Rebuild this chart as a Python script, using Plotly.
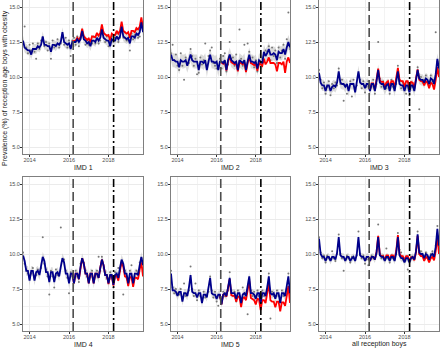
import plotly.graph_objects as go

# ---- data (monthly, Sep 2013 .. Oct 2019) ----
n_months = 74
x_years = [2013 + (8 + i) / 12 for i in range(n_months)]
red_start = 30  # Mar 2016

panel_titles = ["IMD 1", "IMD 2", "IMD 3", "IMD 4", "IMD 5", "all reception boys"]

blue_imd1 = [12.6, 12.1, 12.0, 11.9, 11.9, 11.6, 12.0, 12.0, 12.0, 12.2, 12.1, 12.3,
             12.9, 12.3, 12.3, 12.2, 12.2, 11.8, 12.3, 12.3, 12.2, 12.4, 12.3, 12.5,
             13.2, 12.5, 12.4, 12.3, 12.4, 12.0, 12.5, 12.5, 12.5, 12.7, 12.5, 12.7,
             13.3, 12.7, 12.6, 12.4, 12.5, 12.2, 12.6, 12.6, 12.5, 12.8, 12.6, 12.8,
             13.4, 12.8, 12.7, 12.6, 12.6, 12.2, 12.7, 12.6, 12.6, 12.9, 12.7, 12.9,
             13.6, 12.9, 12.8, 12.7, 12.8, 12.4, 12.9, 12.9, 12.8, 13.1, 13.0, 13.2,
             13.9, 13.2]
red_imd1 = [12.55, 12.55, 12.6, 12.8, 12.65, 12.85, 13.45, 12.9, 12.8, 12.65, 12.75, 12.5,
            12.9, 12.9, 12.85, 13.15, 12.95, 13.15, 13.75, 13.15, 13.05, 12.95, 13.0, 12.6,
            13.1, 13.0, 13.0, 13.3, 13.1, 13.3, 13.95, 13.3, 13.2, 13.1, 13.2, 12.8,
            13.3, 13.3, 13.2, 13.5, 13.4, 13.6, 14.25, 13.55]
obs_imd1 = [12.5, 13.6, 12.1, 11.7, 12.3, 11.9, 12.4, 11.8, 11.3, 12.4, 12.0, 12.6,
            12.8, 12.2, 12.5, 11.9, 12.4, 11.3, 12.6, 12.1, 12.3, 12.7, 12.1, 12.4,
            13.0, 12.3, 12.8, 12.1, 12.6, 11.5, 12.6, 12.8, 12.3, 12.9, 12.2, 12.8,
            13.1, 12.9, 12.3, 12.6, 12.3, 12.5, 12.4, 12.9, 12.4, 13.0, 12.4, 12.6,
            13.5, 13.2, 12.5, 12.9, 12.2, 12.5, 12.9, 12.5, 12.8, 13.1, 12.5, 12.8,
            13.7, 12.8, 13.2, 12.6, 12.6, 11.9, 13.1, 12.7, 13.0, 13.4, 12.8, 12.9,
            13.7, 13.5]

blue_imd2 = [11.6, 11.2, 11.2, 11.1, 11.1, 10.7, 11.2, 11.1, 11.1, 11.2, 10.8, 11.2,
             11.6, 11.2, 11.1, 11.1, 11.1, 10.5, 11.1, 11.1, 11.0, 11.2, 10.5, 11.1,
             11.6, 11.1, 11.1, 11.0, 11.1, 10.5, 11.1, 11.1, 11.0, 11.2, 10.5, 11.2,
             11.6, 11.2, 11.1, 11.0, 11.1, 10.5, 11.2, 11.1, 11.0, 11.2, 10.5, 11.1,
             11.6, 11.1, 11.1, 11.0, 11.1, 10.6, 11.2, 11.1, 11.0, 11.8, 11.5, 11.7,
             12.0, 11.6, 11.6, 11.7, 11.6, 11.2, 11.8, 11.7, 11.7, 12.0, 11.6, 12.1,
             12.5, 12.1]
red_imd2 = [11.1, 11.05, 10.95, 11.1, 10.45, 11.1, 11.5, 11.05, 11.0, 10.9, 11.0, 10.4,
            11.05, 11.0, 10.9, 11.05, 10.35, 11.0, 11.45, 11.0, 10.95, 10.85, 10.95, 10.45,
            11.0, 10.9, 10.8, 11.3, 10.9, 11.1, 11.4, 11.0, 11.0, 11.0, 10.9, 10.4,
            11.0, 11.0, 10.9, 11.1, 10.3, 11.1, 11.4, 11.0]
obs_imd2 = [11.7, 12.3, 11.2, 11.6, 10.8, 10.5, 11.7, 10.8, 9.8, 11.4, 10.9, 11.0,
            12.0, 11.5, 10.8, 11.3, 10.2, 10.3, 11.4, 10.9, 11.2, 12.4, 10.7, 11.5,
            11.9, 12.1, 11.0, 10.8, 10.6, 10.6, 11.3, 10.6, 11.5, 11.7, 10.4, 10.9,
            12.5, 11.3, 11.4, 10.8, 11.6, 10.7, 13.4, 11.3, 10.8, 12.3, 10.6, 12.4,
            11.8, 11.0, 11.4, 10.7, 11.2, 10.4, 10.9, 11.0, 11.3, 11.6, 11.9, 11.8,
            12.2, 11.2, 12.1, 11.5, 11.9, 11.0, 12.1, 11.4, 11.9, 12.3, 11.3, 12.7,
            14.6, 12.0]

blue_imd3 = [10.3, 9.6, 9.4, 9.4, 9.0, 9.4, 9.4, 9.0, 9.3, 9.4, 9.3, 9.6,
             10.4, 9.6, 9.5, 9.5, 9.3, 9.5, 9.0, 9.5, 9.5, 9.5, 8.9, 9.6,
             10.4, 9.6, 9.5, 9.5, 9.2, 9.5, 9.5, 9.0, 9.5, 9.5, 9.0, 9.7,
             10.5, 9.6, 9.5, 9.5, 9.1, 9.4, 9.5, 9.0, 9.5, 9.5, 9.0, 9.7,
             10.4, 9.5, 9.4, 9.4, 9.0, 9.4, 9.4, 8.9, 9.4, 9.4, 9.0, 9.8,
             10.5, 9.9, 9.8, 9.8, 9.6, 9.9, 9.8, 9.5, 9.9, 9.8, 9.5, 10.2,
             11.3, 10.6]
red_imd3 = [9.55, 9.05, 9.55, 9.55, 9.05, 9.75, 10.6, 9.75, 9.65, 9.65, 9.3, 9.6,
            9.7, 9.25, 9.7, 9.7, 9.25, 9.95, 10.65, 9.8, 9.7, 9.7, 9.3, 9.7,
            9.7, 9.25, 9.65, 9.6, 9.2, 9.9, 10.55, 9.8, 9.7, 9.7, 9.4, 9.7,
            9.6, 9.2, 9.6, 9.5, 9.1, 9.8, 10.7, 10.0]
obs_imd3 = [10.5, 9.8, 9.2, 9.6, 8.8, 9.3, 9.7, 8.7, 9.5, 9.2, 9.6, 9.4,
            10.6, 9.5, 9.8, 8.3, 9.4, 8.8, 9.2, 9.7, 8.6, 9.8, 9.1, 9.4,
            10.2, 9.8, 9.2, 9.7, 8.9, 9.3, 9.7, 9.2, 9.3, 9.8, 8.8, 9.5,
            12.5, 9.9, 9.3, 9.7, 9.3, 9.2, 9.6, 8.8, 9.8, 9.3, 9.2, 9.5,
            10.8, 9.7, 9.2, 9.6, 9.2, 8.8, 9.6, 8.7, 9.6, 9.3, 9.2, 9.9,
            10.7, 7.7, 10.0, 9.6, 9.8, 10.1, 9.6, 9.3, 10.1, 9.7, 9.8, 13.2,
            11.1, 10.5]

blue_imd4 = [9.9, 9.5, 8.8, 8.8, 8.1, 8.8, 8.8, 8.1, 8.7, 8.8, 8.5, 9.2,
             9.8, 9.5, 8.7, 8.7, 8.0, 8.7, 8.7, 8.0, 8.6, 8.7, 8.4, 9.1,
             9.7, 9.4, 8.6, 8.6, 7.9, 8.6, 8.6, 7.9, 8.6, 8.6, 8.2, 9.1,
             9.7, 9.3, 8.6, 8.6, 7.9, 8.6, 8.6, 7.9, 8.6, 8.6, 8.3, 9.0,
             9.6, 9.2, 8.5, 8.5, 7.9, 8.5, 8.5, 7.8, 8.5, 8.6, 8.3, 9.0,
             9.6, 9.3, 8.6, 8.6, 7.9, 8.6, 8.6, 7.9, 8.6, 8.6, 8.5, 9.2,
             9.8, 9.2]
red_imd4 = [8.6, 7.9, 8.6, 8.6, 8.2, 9.1, 9.7, 9.3, 8.6, 8.6, 7.9, 8.6,
            8.6, 7.9, 8.6, 8.6, 8.3, 9.0, 9.6, 9.2, 8.5, 8.5, 7.85, 8.45,
            8.45, 7.75, 8.4, 8.45, 8.1, 8.8, 9.45, 9.1, 8.4, 8.35, 7.7, 8.35,
            8.35, 7.65, 8.3, 8.3, 8.2, 8.9, 9.4, 8.4]
obs_imd4 = [10.1, 9.3, 8.9, 8.6, 8.3, 8.6, 9.0, 8.3, 8.5, 8.9, 8.7, 9.0,
            11.2, 9.3, 8.9, 8.4, 7.1, 8.8, 8.4, 7.6, 8.9, 8.5, 8.6, 11.9,
            9.5, 9.6, 8.8, 8.3, 7.2, 8.7, 8.4, 8.1, 8.8, 8.4, 8.0, 9.3,
            9.5, 9.4, 8.8, 8.4, 8.1, 8.4, 8.8, 8.1, 8.4, 8.8, 9.8, 8.8,
            9.8, 9.0, 8.7, 8.3, 8.1, 8.7, 8.3, 7.6, 8.7, 8.4, 9.0, 8.8,
            9.4, 7.1, 8.8, 8.4, 8.1, 8.8, 9.2, 8.1, 8.4, 8.8, 8.7, 9.4,
            9.7, 9.0]

blue_imd5 = [8.6, 7.4, 7.4, 7.3, 7.0, 7.3, 7.3, 6.6, 7.2, 7.2, 7.0, 7.6,
             8.5, 7.3, 7.2, 7.2, 6.9, 7.2, 7.2, 6.5, 7.1, 7.1, 6.9, 7.5,
             8.3, 7.2, 7.1, 7.1, 6.8, 7.1, 7.1, 6.4, 7.1, 7.2, 7.0, 7.6,
             8.3, 7.2, 7.2, 7.2, 6.8, 7.2, 7.2, 6.5, 7.1, 7.2, 7.0, 7.6,
             8.4, 7.2, 7.2, 7.1, 6.8, 7.2, 7.2, 6.5, 7.2, 7.2, 7.0, 7.6,
             8.4, 7.2, 7.1, 7.2, 6.8, 7.2, 7.2, 6.5, 7.2, 7.2, 7.0, 7.7,
             8.4, 7.2]
red_imd5 = [7.1, 6.4, 7.1, 7.15, 6.95, 7.5, 8.2, 7.05, 7.0, 7.0, 6.6, 6.95,
            6.95, 6.2, 6.85, 6.9, 6.7, 7.3, 8.1, 6.85, 6.8, 6.7, 6.4, 6.8,
            6.75, 6.0, 6.7, 6.7, 6.5, 7.1, 7.9, 6.7, 6.6, 6.6, 6.2, 6.6,
            6.6, 5.9, 6.55, 6.55, 6.3, 7.0, 7.7, 6.5]
obs_imd5 = [8.8, 7.6, 7.2, 7.5, 7.2, 7.1, 7.5, 6.8, 7.9, 7.0, 7.2, 7.4,
            9.1, 7.5, 7.0, 7.9, 6.7, 7.4, 7.0, 6.7, 7.3, 6.9, 7.1, 7.3,
            8.4, 7.4, 6.9, 7.3, 6.6, 6.3, 6.9, 6.6, 7.3, 7.0, 7.2, 7.4,
            8.7, 7.4, 7.0, 7.3, 6.6, 7.4, 7.0, 6.8, 7.6, 6.9, 7.2, 5.7,
            8.2, 7.4, 7.0, 7.3, 7.0, 7.4, 7.0, 6.7, 7.4, 7.0, 7.2, 7.4,
            8.6, 5.4, 7.3, 7.0, 7.0, 7.4, 7.0, 6.7, 7.4, 7.0, 7.2, 7.5,
            8.6, 7.0]

blue_all = [11.1, 10.0, 9.8, 9.8, 9.5, 9.8, 9.8, 9.5, 9.8, 9.8, 9.6, 10.1,
            11.2, 9.9, 9.8, 9.8, 9.5, 9.8, 9.8, 9.5, 9.7, 9.8, 9.5, 10.0,
            11.2, 9.9, 9.8, 9.8, 9.5, 9.8, 9.8, 9.5, 9.8, 9.8, 9.6, 10.1,
            11.2, 9.9, 9.8, 9.8, 9.5, 9.8, 9.8, 9.5, 9.8, 9.8, 9.5, 10.1,
            11.2, 9.9, 9.7, 9.7, 9.4, 9.7, 9.7, 9.4, 9.7, 9.8, 9.6, 10.2,
            11.4, 10.1, 10.0, 10.0, 9.7, 10.0, 9.9, 9.6, 9.9, 10.0, 9.8, 10.5,
            11.8, 10.6]
red_all = [9.8, 9.5, 9.8, 9.8, 9.6, 10.15, 11.3, 9.95, 9.85, 9.85, 9.6, 9.9,
           9.9, 9.6, 9.9, 9.9, 9.65, 10.25, 11.35, 10.0, 9.85, 9.85, 9.55, 9.85,
           9.85, 9.5, 9.75, 9.8, 9.55, 10.1, 11.3, 10.0, 9.85, 9.85, 9.5, 9.8,
           9.7, 9.4, 9.7, 9.8, 9.55, 10.2, 11.3, 10.0]
obs_all = [11.2, 10.1, 9.7, 9.9, 9.4, 9.9, 9.7, 9.6, 10.2, 9.7, 9.5, 10.0,
           11.4, 10.0, 9.7, 8.8, 9.6, 9.9, 9.7, 9.4, 9.8, 9.7, 9.6, 9.9,
           11.6, 10.0, 9.7, 9.9, 9.3, 9.6, 9.2, 9.6, 9.9, 9.7, 9.7, 10.0,
           12.1, 10.0, 9.7, 9.9, 9.6, 10.4, 9.7, 9.4, 9.9, 9.7, 9.6, 10.0,
           11.5, 10.3, 10.1, 9.6, 9.5, 9.8, 8.9, 8.7, 9.8, 9.7, 9.7, 10.3,
           11.6, 10.0, 10.2, 9.9, 9.6, 10.1, 9.8, 9.7, 10.0, 10.2, 9.7, 10.6,
           12.0, 10.5]

ribbon_halfwidth = [0.35, 0.5, 0.4, 0.35, 0.3, 0.25]

blues = [blue_imd1, blue_imd2, blue_imd3, blue_imd4, blue_imd5, blue_all]
reds = [red_imd1, red_imd2, red_imd3, red_imd4, red_imd5, red_all]
obs = [obs_imd1, obs_imd2, obs_imd3, obs_imd4, obs_imd5, obs_all]

intervention_dates = [2016.21, 2018.26]
y_ticks = [5.0, 7.5, 10.0, 12.5, 15.0]
y_tick_text = ["5.0", "7.5", "10.0", "12.5", "15.0"]
x_ticks = [2014, 2016, 2018]

# ---- layout geometry ----
W, H = 440, 349
col_px = [(23, 143), (171, 290), (319, 439)]
row_px = [(0, 154), (177, 331)]

fig = go.Figure()
font_family = "Liberation Sans, Arial, sans-serif"

for k in range(6):
    r, c = divmod(k, 3)
    ax = "" if k == 0 else str(k + 1)
    xa, ya = "x" + ax, "y" + ax
    b = blues[k]
    hw = ribbon_halfwidth[k]
    lo = [v - hw for v in b]
    hi = [v + hw for v in b]
    fig.add_trace(go.Scatter(x=x_years, y=lo, mode="lines", line=dict(width=0),
                             hoverinfo="skip", showlegend=False, xaxis=xa, yaxis=ya))
    fig.add_trace(go.Scatter(x=x_years, y=hi, mode="lines", line=dict(width=0),
                             fill="tonexty", fillcolor="rgba(200,200,200,0.65)",
                             hoverinfo="skip", showlegend=False, xaxis=xa, yaxis=ya))
    fig.add_trace(go.Scatter(x=x_years, y=obs[k], mode="markers",
                             marker=dict(size=2, color="#777777"),
                             showlegend=False, xaxis=xa, yaxis=ya))
    fig.add_trace(go.Scatter(x=x_years[red_start:], y=reds[k], mode="lines",
                             line=dict(color="#ff0000", width=1.8),
                             showlegend=False, xaxis=xa, yaxis=ya))
    fig.add_trace(go.Scatter(x=x_years, y=b, mode="lines",
                             line=dict(color="#00008b", width=1.8),
                             showlegend=False, xaxis=xa, yaxis=ya))

    x0, x1 = col_px[c]
    y0, y1 = row_px[r]
    axis_common = dict(showline=True, linecolor="#7f7f7f", linewidth=1, mirror=True,
                       ticks="outside", ticklen=2, tickcolor="#333333", tickwidth=0.8,
                       tickfont=dict(size=5.5, color="#4d4d4d", family=font_family),
                       showgrid=True, gridcolor="#ebebeb", gridwidth=0.8,
                       zeroline=False)
    fig.layout["xaxis" + ax] = dict(
        domain=[x0 / W, x1 / W], anchor=ya,
        range=[x_years[0], x_years[-1]],
        tickvals=x_ticks, ticktext=[str(t) for t in x_ticks],
        ticklabelstandoff=-2,
        minor=dict(showgrid=True, gridcolor="#f3f3f3", gridwidth=0.5,
                   tickvals=[2015, 2017, 2019], ticks=""),
        **axis_common)
    fig.layout["yaxis" + ax] = dict(
        domain=[(H - y1) / H, (H - y0) / H], anchor=xa,
        range=[4.5, 15.5], tickvals=y_ticks, ticktext=y_tick_text,
        ticklabelstandoff=-1,
        minor=dict(showgrid=True, gridcolor="#f3f3f3", gridwidth=0.5,
                   tickvals=[6.25, 8.75, 11.25, 13.75], ticks=""),
        **axis_common)

    # intervention lines
    fig.add_shape(type="line", xref=xa, yref=ya + " domain",
                  x0=intervention_dates[0], x1=intervention_dates[0], y0=0, y1=1,
                  line=dict(color="#4d4d4d", width=1.6, dash="9px,4px"))
    fig.add_shape(type="line", xref=xa, yref=ya + " domain",
                  x0=intervention_dates[1], x1=intervention_dates[1], y0=0, y1=1,
                  line=dict(color="#000000", width=1.6, dash="8px,3px,2px,3px"))

    # facet title below
    fig.add_annotation(text=panel_titles[k], xref="paper", yref="paper",
                       x=(x0 + x1) / 2 / W, y=(H - (y1 + 13)) / H,
                       showarrow=False, xanchor="center", yanchor="middle",
                       font=dict(size=7, color="#1a1a1a", family=font_family))

fig.add_annotation(text="Prevalence (%) of reception age boys with obesity",
                   xref="paper", yref="paper", x=5 / W, y=(H - 88) / H,
                   textangle=-90, showarrow=False, xanchor="center", yanchor="middle",
                   font=dict(size=7, color="#1a1a1a", family=font_family))

fig.update_layout(width=W, height=H, margin=dict(l=0, r=0, t=0, b=0),
                  paper_bgcolor="white", plot_bgcolor="white", showlegend=False)

fig.write_html("out.html", config={"displayModeBar": False},
               post_script="document.body.style.margin='0px';document.body.style.overflow='hidden';")
